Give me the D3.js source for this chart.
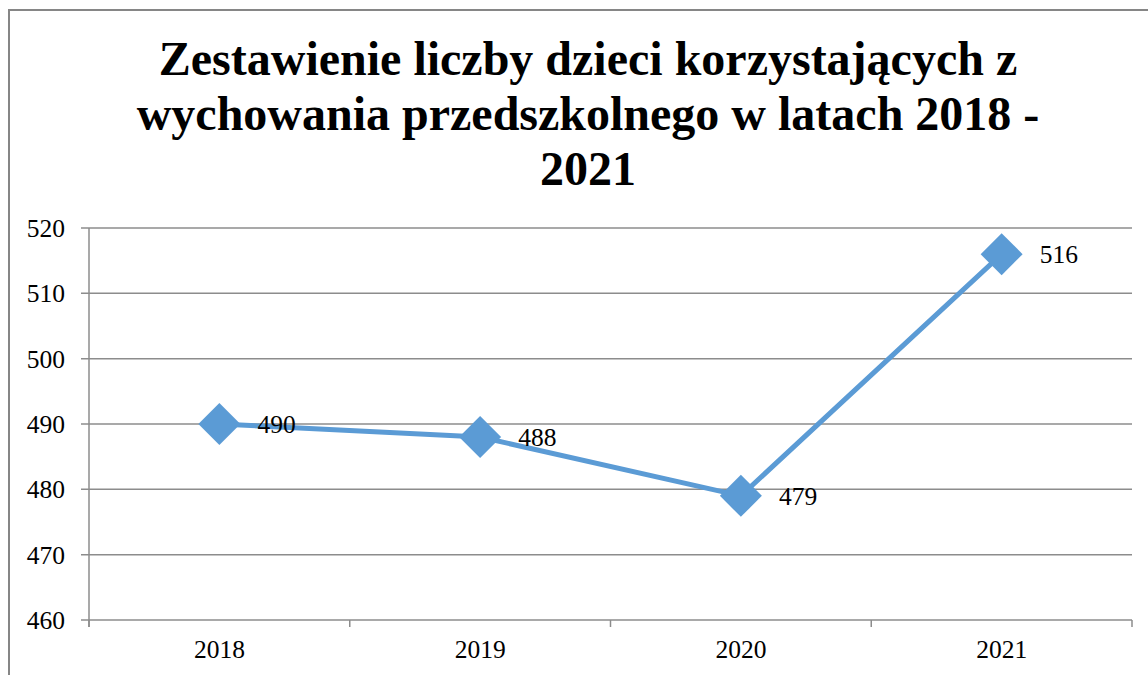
<!DOCTYPE html>
<html><head><meta charset="utf-8">
<script src="https://cdn.jsdelivr.net/npm/d3@7"></script>
<style>body{margin:0;background:#fff}svg{display:block}</style>
</head><body>
<script>
const categories = ["2018", "2019", "2020", "2021"];
const values = [490, 488, 479, 516];
const yTicks = [460, 470, 480, 490, 500, 510, 520];
const titleLines = ["Zestawienie liczby dzieci korzystających z", "wychowania przedszkolnego w latach 2018 -", "2021"];

const W = 1148, H = 675;
const svg = d3.select("body").append("svg").attr("width", W).attr("height", H);
const font = "Times New Roman, Liberation Serif, Times, serif";

svg.append("rect").attr("x", 9).attr("y", 10).attr("width", 1160).attr("height", 700)
  .attr("fill", "none").attr("stroke", "#868686").attr("stroke-width", 2);

const m = {l: 89, r: 1132, t: 228, b: 620};
const x = d3.scaleBand().domain(categories).range([m.l, m.r]);
const y = d3.scaleLinear().domain([460, 520]).range([m.b, m.t]);

svg.append("g").selectAll("text").data(titleLines).join("text")
  .attr("x", 588).attr("y", (d, i) => 75 + i * 55)
  .attr("text-anchor", "middle").style("font-family", font).attr("font-weight", "bold")
  .attr("font-size", 48).text(d => d);

svg.append("g").selectAll("line").data(yTicks).join("line")
  .attr("x1", m.l - 8).attr("x2", m.r).attr("y1", d => y(d)).attr("y2", d => y(d))
  .attr("stroke", "#8c8c8c").attr("stroke-width", 1.5);
svg.append("line").attr("x1", m.l).attr("x2", m.l).attr("y1", m.t).attr("y2", m.b + 7)
  .attr("stroke", "#8c8c8c").attr("stroke-width", 1.5);
const bounds = categories.map(c => x(c)).concat([m.r]);
svg.append("g").selectAll("line").data(bounds).join("line")
  .attr("x1", d => d).attr("x2", d => d).attr("y1", m.b).attr("y2", m.b + 7)
  .attr("stroke", "#8c8c8c").attr("stroke-width", 1.5);

svg.append("g").selectAll("text").data(yTicks).join("text")
  .attr("x", 65).attr("y", d => y(d)).attr("dy", "0.35em").attr("text-anchor", "end")
  .style("font-family", font).attr("font-size", 25.5).text(d => d);

svg.append("g").selectAll("text").data(categories).join("text")
  .attr("x", d => x(d) + x.bandwidth() / 2).attr("y", 658).attr("text-anchor", "middle")
  .style("font-family", font).attr("font-size", 25.5).text(d => d);

const pts = categories.map((c, i) => [x(c) + x.bandwidth() / 2, y(values[i])]);
svg.append("path").attr("d", d3.line()(pts)).attr("fill", "none")
  .attr("stroke", "#5B9BD5").attr("stroke-width", 5);

svg.append("g").selectAll("path").data(pts).join("path")
  .attr("transform", d => `translate(${d[0]},${d[1]})`)
  .attr("d", "M0,-21L21,0L0,21L-21,0Z").attr("fill", "#5B9BD5");

svg.append("g").selectAll("text").data(pts).join("text")
  .attr("x", d => d[0] + 38).attr("y", d => d[1]).attr("dy", "0.35em")
  .style("font-family", font).attr("font-size", 25.5).text((d, i) => values[i]);
</script>
</body></html>
